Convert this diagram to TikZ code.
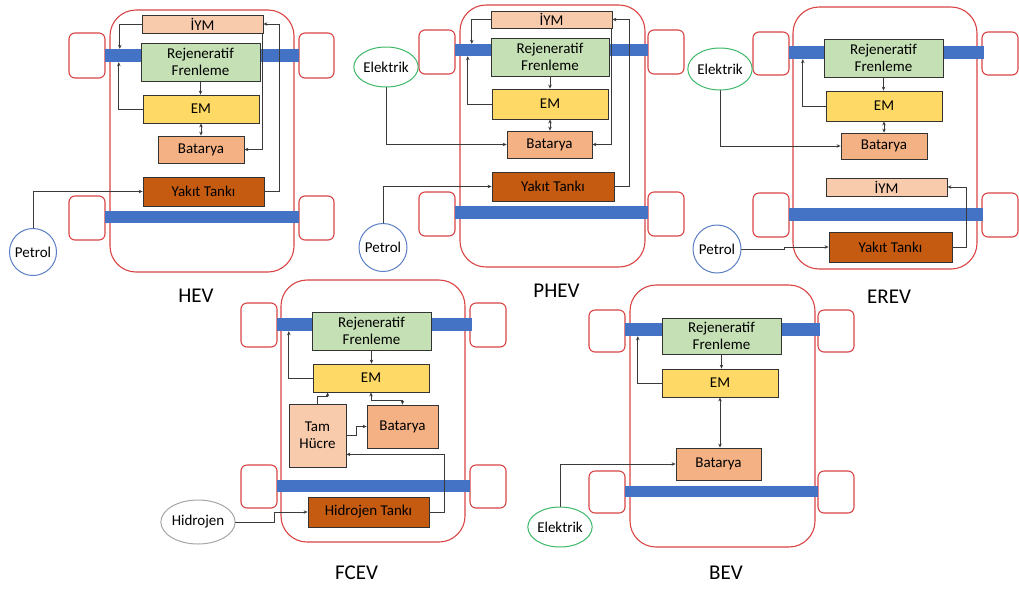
\documentclass[tikz,border=0pt]{standalone}
\usepackage{fontspec}
\setmainfont{Carlito}
\usepackage{tikz}
\usetikzlibrary{arrows.meta, calc, shapes.geometric}
\definecolor{carRed}{HTML}{D94343}
\definecolor{axleBlue}{HTML}{4472C4}
\definecolor{iymPeach}{HTML}{F8CBAD}
\definecolor{regGreen}{HTML}{C5E0B4}
\definecolor{emYellow}{HTML}{FFD966}
\definecolor{batOrange}{HTML}{F4B183}
\definecolor{tankBrown}{HTML}{C55A11}
\definecolor{elekGreen}{HTML}{3CB868}
\definecolor{petBlue}{HTML}{5B7FC4}
\definecolor{lineGray}{HTML}{3A3A3A}

\begin{document}
\begin{tikzpicture}[x=1pt, y=-1pt, line cap = round,
	car/.style={draw=carRed, line width=1.1pt, rounded corners=26pt},
	wheel/.style={draw=carRed, line width=1.1pt, rounded corners=6pt},
	axle/.style={fill=axleBlue, inner sep=0pt},
	part/.style={draw=black!80, line width=0.8pt, inner sep=0pt, align=center, font=\fontsize{15}{17}\selectfont},
	src/.style={ellipse, draw, line width=1pt, fill=white, inner sep=0pt, font=\fontsize{15}{17}\selectfont},
	conn/.style={draw=lineGray, line width=0.9pt, -{Stealth[length=4pt, width=3.5pt]}},
	both/.style={conn, {Stealth[length=4pt, width=3.5pt]}-{Stealth[length=4pt, width=3.5pt]}},
	tag/.style={font=\fontsize{21}{24}\selectfont}]

	\useasboundingbox (0,0) rectangle (1019,590);

	% HEV
	\draw[car] (110,10) rectangle (294,272);
	\draw[wheel] (69,33) rectangle (105,78);
	\draw[wheel] (299,33) rectangle (334,78);
	\draw[wheel] (69,196) rectangle (105,240);
	\draw[wheel] (299,196) rectangle (334,240);
	\node[axle, minimum width=194, minimum height=13] (h-ax1) at (202,55.5) {};
	\node[axle, minimum width=194, minimum height=12] (h-ax2) at (202,217) {};
	\node[part, fill=iymPeach, minimum width=121, minimum height=18] (h-iym) at (202.5,24) {İYM};
	\node[part, fill=regGreen, minimum width=119, minimum height=38] (h-reg) at (200.5,62) {Rejeneratif\\Frenleme};
	\node[part, fill=emYellow, minimum width=116, minimum height=28] (h-em) at (201,109) {EM};
	\node[part, fill=batOrange, minimum width=86, minimum height=27] (h-bat) at (201,149.5) {Batarya};
	\node[part, fill=tankBrown, minimum width=121, minimum height=29] (h-tank) at (203.5,191.5) {Yakıt Tankı};
	\node[src, draw=petBlue, circle, minimum size=47] (h-pet) at (33,252) {Petrol};
	\draw[conn] (h-iym.west) -| ([xshift=15pt]h-ax1.north west);
	\draw[conn] (h-em.west) -| ([xshift=14pt]h-ax1.south west);
	\draw[conn] (h-reg.south) -- (h-reg.south |- h-em.north);
	\draw[both] (h-em.south) -- (h-em.south |- h-bat.north);
	\draw[conn] ([xshift=-1pt]h-iym.south east) |- (h-bat.east);
	\draw[conn] (h-tank.east) -- ++(15,0) |- (h-iym.east);
	\draw[conn] (h-pet.north) |- (h-tank.west);
	\node[tag] (h-tag) at (196,296) {HEV};

	% PHEV
	\draw[car] (460,5) rectangle (645,267);
	\draw[wheel] (419,30) rectangle (455,74);
	\draw[wheel] (648,30) rectangle (684,74);
	\draw[wheel] (419,192) rectangle (455,236);
	\draw[wheel] (648,192) rectangle (684,236);
	\node[axle, minimum width=193, minimum height=12] (p-ax1) at (551.5,50) {};
	\node[axle, minimum width=193, minimum height=13] (p-ax2) at (551.5,212.5) {};
	\node[part, fill=iymPeach, minimum width=121, minimum height=17] (p-iym) at (551.5,19.5) {İYM};
	\node[part, fill=regGreen, minimum width=118, minimum height=38] (p-reg) at (550,57) {Rejeneratif\\Frenleme};
	\node[part, fill=emYellow, minimum width=116, minimum height=30] (p-em) at (550,104) {EM};
	\node[part, fill=batOrange, minimum width=85, minimum height=27] (p-bat) at (549.5,144.5) {Batarya};
	\node[part, fill=tankBrown, minimum width=122, minimum height=29] (p-tank) at (553,186.5) {Yakıt Tankı};
	\node[src, draw=elekGreen, minimum width=59, minimum height=40] (p-elek) at (386,67) {Elektrik};
	\node[src, draw=petBlue, circle, minimum size=48] (p-pet) at (383,247.5) {Petrol};
	\draw[conn] (p-iym.west) -| ([xshift=17pt]p-ax1.north west);
	\draw[conn] (p-em.west) -| ([xshift=13pt]p-ax1.south west);
	\draw[conn] (p-reg.south) -- (p-reg.south |- p-em.north);
	\draw[both] (p-em.south) -- (p-em.south |- p-bat.north);
	\draw[conn] ([xshift=-1pt]p-iym.south east) |- (p-bat.east);
	\draw[conn] (p-tank.east) -- ++(15,0) |- (p-iym.east);
	\draw[conn] (p-pet.north) |- (p-tank.west);
	\draw[conn] (p-elek.south) |- (p-bat.west);
	\node[tag] (p-tag) at (556.5,291) {PHEV};

	% EREV
	\draw[car] (793,7) rectangle (977,269);
	\draw[wheel] (753,32) rectangle (789,75);
	\draw[wheel] (982,32) rectangle (1018,75);
	\draw[wheel] (753,193) rectangle (789,237);
	\draw[wheel] (982,193) rectangle (1018,237);
	\node[axle, minimum width=195, minimum height=13] (e-ax1) at (886.5,52.5) {};
	\node[axle, minimum width=194, minimum height=13] (e-ax2) at (886,214.5) {};
	\node[part, fill=regGreen, minimum width=119, minimum height=38] (e-reg) at (883.5,58) {Rejeneratif\\Frenleme};
	\node[part, fill=emYellow, minimum width=116, minimum height=30] (e-em) at (884,106) {EM};
	\node[part, fill=batOrange, minimum width=86, minimum height=26] (e-bat) at (884,146) {Batarya};
	\node[part, fill=iymPeach, minimum width=121, minimum height=18] (e-iym) at (886.5,187) {İYM};
	\node[part, fill=tankBrown, minimum width=123, minimum height=30] (e-tank) at (890.5,247) {Yakıt Tankı};
	\node[src, draw=elekGreen, minimum width=56, minimum height=42] (e-elek) at (720,69) {Elektrik};
	\node[src, draw=petBlue, circle, minimum size=48] (e-pet) at (717,249) {Petrol};
	\draw[conn] (e-em.west) -| ([xshift=14pt]e-ax1.south west);
	\draw[conn] (e-reg.south) -- (e-reg.south |- e-em.north);
	\draw[both] (e-em.south) -- (e-em.south |- e-bat.north);
	\draw[conn] (e-elek.south) |- (e-bat.west);
	\draw[conn] (e-pet.east) -- ++(43,0) |- (e-tank.west);
	\draw[conn] (e-tank.east) -- ++(14,0) |- (e-iym.east);
	\node[tag] (e-tag) at (889,297) {EREV};

	% FCEV
	\draw[car] (281,280) rectangle (465,542);
	\draw[wheel] (241,303) rectangle (277,347);
	\draw[wheel] (470,303) rectangle (506,347);
	\draw[wheel] (241,465) rectangle (277,508);
	\draw[wheel] (470,465) rectangle (506,508);
	\node[axle, minimum width=195, minimum height=13] (f-ax1) at (374.5,324.5) {};
	\node[axle, minimum width=193, minimum height=12] (f-ax2) at (373.5,486) {};
	\node[part, fill=regGreen, minimum width=119, minimum height=38] (f-reg) at (371.5,331) {Rejeneratif\\Frenleme};
	\node[part, fill=emYellow, minimum width=116, minimum height=28] (f-em) at (371,378) {EM};
	\node[part, fill=iymPeach, minimum width=57, minimum height=63] (f-fc) at (317.5,435.5) {Tam\\Hücre};
	\node[part, fill=batOrange, minimum width=71, minimum height=43] (f-bat) at (402.5,426.5) {Batarya};
	\node[part, fill=tankBrown, minimum width=121, minimum height=30] (f-tank) at (368.5,512) {Hidrojen Tankı};
	\node[src, draw=gray!70, minimum width=60, minimum height=44] (f-hyd) at (198,522) {Hidrojen};
	\draw[conn] (f-em.west) -| ([xshift=12pt]f-ax1.south west);
	\draw[conn] (f-reg.south) -- (f-reg.south |- f-em.north);
	\draw[conn] (f-fc.north) -- ++(0,-7) -| ([xshift=15pt]f-em.south west);
	\draw[both] (f-em.south) -- ++(0,8) -| (f-bat.north);
	\draw[conn] (f-fc.east) -- ++(10,0) |- (f-bat.west);
	\draw[conn] (f-tank.east) -- ++(15,0) |- ([yshift=13pt]f-fc.south east);
	\draw[conn] (f-hyd.east) -- ++(39,0) |- (f-tank.west);
	\node[tag] (f-tag) at (356.5,573) {FCEV};

	% BEV
	\draw[car] (630,285) rectangle (815,547);
	\draw[wheel] (589,310) rectangle (625,352);
	\draw[wheel] (818,310) rectangle (854,352);
	\draw[wheel] (589,471) rectangle (625,513);
	\draw[wheel] (818,471) rectangle (854,513);
	\node[axle, minimum width=195, minimum height=13] (b-ax1) at (722.5,329.5) {};
	\node[axle, minimum width=193, minimum height=11] (b-ax2) at (721.5,491.5) {};
	\node[part, fill=regGreen, minimum width=119, minimum height=36] (b-reg) at (721.5,336) {Rejeneratif\\Frenleme};
	\node[part, fill=emYellow, minimum width=116, minimum height=28] (b-em) at (720,383) {EM};
	\node[part, fill=batOrange, minimum width=85, minimum height=32] (b-bat) at (718.5,464) {Batarya};
	\node[src, draw=elekGreen, minimum width=58, minimum height=40] (b-elek) at (560,527) {Elektrik};
	\draw[conn] (b-em.west) -| ([xshift=13pt]b-ax1.south west);
	\draw[conn] (b-reg.south) -- (b-reg.south |- b-em.north);
	\draw[both] (b-em.south) -- (b-em.south |- b-bat.north);
	\draw[conn] (b-elek.north) |- (b-bat.west);
	\node[tag] (b-tag) at (726,572.5) {BEV};

\end{tikzpicture}
\end{document}
